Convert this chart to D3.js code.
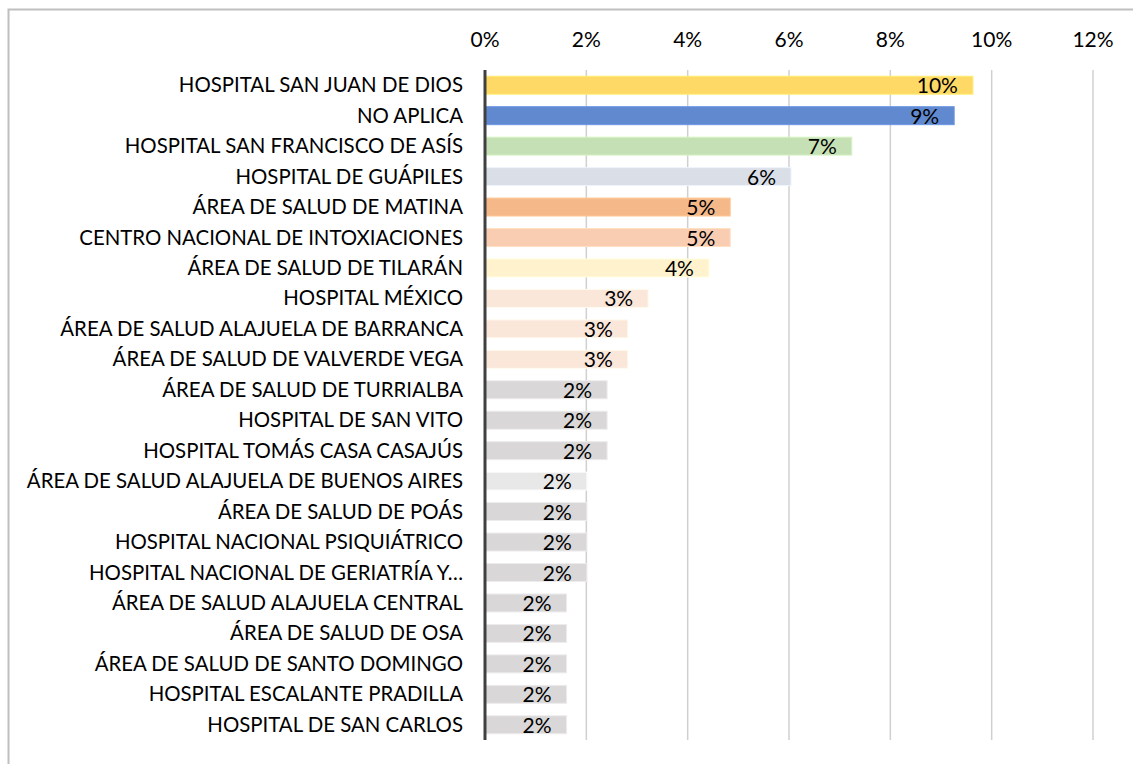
<!DOCTYPE html>
<html lang="es">
  <head>
    <meta charset="UTF-8" />
    <title>Establecimientos</title>
    <script src="https://d3js.org/d3.v7.min.js"></script>
    <style>
      body {
        margin: 0;
        background: #fff;
        font-family: Lato, "Open Sans", sans-serif;
      }
      .frame {
        fill: none;
        stroke: #bfbfbf;
        stroke-width: 2px;
      }
      .tick-label {
        font-size: 21px;
        fill: #000;
        text-anchor: middle;
      }
      .cat-label {
        font-size: 20.4px;
        fill: #000;
        text-anchor: end;
      }
      .val-label {
        font-size: 21px;
        fill: #000;
        text-anchor: end;
      }
      .grid line {
        stroke: #d0d0d0;
        stroke-width: 1.5px;
      }
    </style>
  </head>
  <body>
    <svg id="chart"></svg>

    <script>
      const categories = [
        "HOSPITAL SAN JUAN DE DIOS",
        "NO APLICA",
        "HOSPITAL SAN FRANCISCO DE ASÍS",
        "HOSPITAL DE GUÁPILES",
        "ÁREA DE SALUD DE MATINA",
        "CENTRO NACIONAL DE INTOXIACIONES",
        "ÁREA DE SALUD DE TILARÁN",
        "HOSPITAL MÉXICO",
        "ÁREA DE SALUD ALAJUELA DE BARRANCA",
        "ÁREA DE SALUD DE VALVERDE VEGA",
        "ÁREA DE SALUD DE TURRIALBA",
        "HOSPITAL DE SAN VITO",
        "HOSPITAL TOMÁS CASA CASAJÚS",
        "ÁREA DE SALUD ALAJUELA DE BUENOS AIRES",
        "ÁREA DE SALUD DE POÁS",
        "HOSPITAL NACIONAL PSIQUIÁTRICO",
        "HOSPITAL NACIONAL DE GERIATRÍA Y…",
        "ÁREA DE SALUD ALAJUELA CENTRAL",
        "ÁREA DE SALUD DE OSA",
        "ÁREA DE SALUD DE SANTO DOMINGO",
        "HOSPITAL ESCALANTE PRADILLA",
        "HOSPITAL DE SAN CARLOS"
      ];

      // share of cases (fraction)
      const values = [
        0.0963, 0.0926, 0.0724, 0.0604, 0.0484, 0.0484, 0.0442, 0.0322,
        0.0282, 0.0282, 0.0241, 0.0241, 0.0241, 0.0201, 0.0201, 0.0201,
        0.0201, 0.0161, 0.0161, 0.0161, 0.0161, 0.0161
      ];

      const barColors = [
        "#ffd966", "#6189d0", "#c5e0b4", "#dadfe7", "#f4b889", "#f8cdb2",
        "#fff2cc", "#fbe6da", "#fbe6da", "#fbe6da", "#d9d7d7", "#d9d7d7",
        "#d9d7d7", "#e8e8e8", "#d9d7d7", "#d9d7d7", "#d9d7d7", "#d9d7d7",
        "#d9d7d7", "#d9d7d7", "#d9d7d7", "#d9d7d7"
      ];

      const xTicks = [0, 0.02, 0.04, 0.06, 0.08, 0.1, 0.12];

      const width = 1133;
      const height = 764;
      const margin = { top: 70, right: 40, bottom: 24, left: 485 };

      const svg = d3.select("#chart").attr("width", width).attr("height", height);

      // outer frame (runs off the right and bottom edges)
      svg.append("rect")
        .attr("class", "frame")
        .attr("x", 8.5)
        .attr("y", 9.5)
        .attr("width", width + 20)
        .attr("height", height + 20);

      const x = d3.scaleLinear()
        .domain([0, 0.12])
        .range([margin.left, 1093]);

      const y = d3.scaleBand()
        .domain(categories)
        .range([margin.top, height - margin.bottom])
        .paddingInner(0.41)
        .paddingOuter(0.205);

      // gridlines
      svg.append("g")
        .attr("class", "grid")
        .selectAll("line")
        .data(xTicks.slice(1))
        .join("line")
        .attr("x1", d => x(d))
        .attr("x2", d => x(d))
        .attr("y1", margin.top)
        .attr("y2", height - margin.bottom);

      // top axis labels
      svg.append("g")
        .selectAll("text")
        .data(xTicks)
        .join("text")
        .attr("class", "tick-label")
        .attr("x", d => x(d))
        .attr("y", 47)
        .text(d => d3.format(".0%")(d));

      // bars
      svg.append("g")
        .selectAll("rect")
        .data(categories)
        .join("rect")
        .attr("x", x(0))
        .attr("y", d => y(d))
        .attr("width", (d, i) => x(values[i]) - x(0))
        .attr("height", y.bandwidth())
        .attr("fill", (d, i) => barColors[i])
        .attr("stroke", (d, i) => d3.color(barColors[i]).brighter(0.25))
        .attr("stroke-width", 1);

      // value labels inside end
      svg.append("g")
        .selectAll("text")
        .data(categories)
        .join("text")
        .attr("class", "val-label")
        .attr("x", (d, i) => x(values[i]) - 15)
        .attr("y", d => y(d) + y.bandwidth() / 2 + 8)
        .text((d, i) => d3.format(".0%")(values[i]));

      // category labels
      svg.append("g")
        .selectAll("text")
        .data(categories)
        .join("text")
        .attr("class", "cat-label")
        .attr("x", margin.left - 22)
        .attr("y", d => y(d) + y.bandwidth() / 2 + 7)
        .text(d => d);

      // axis line
      svg.append("line")
        .attr("x1", x(0))
        .attr("x2", x(0))
        .attr("y1", margin.top)
        .attr("y2", height - margin.bottom)
        .attr("stroke", "#404040")
        .attr("stroke-width", 3);
    </script>
  </body>
</html>
